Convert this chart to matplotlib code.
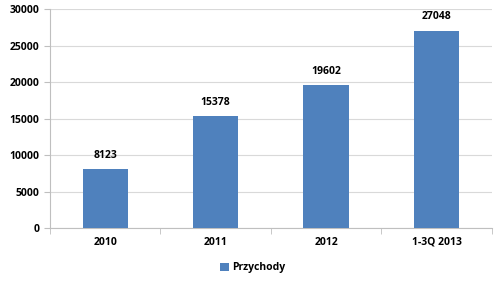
import matplotlib
matplotlib.use("Agg")
import matplotlib.pyplot as plt
import numpy as np

categories = ["2010", "2011", "2012", "1-3Q 2013"]
values = [8123, 15378, 19602, 27048]
series_name = "Przychody"

plt.rcParams['font.family'] = ['Open Sans', 'DejaVu Sans']
fig = plt.figure(figsize=(5, 2.81), dpi=100)
ax = fig.add_axes([0.100, 0.1875, 0.8834, 0.7795])
x = np.arange(len(categories))
bars = ax.bar(x, values, width=0.41, color="#4f81bd", label=series_name, zorder=3)
for xi, v in zip(x, values):
    ax.annotate(str(v), (xi, v), xytext=(0, 6), textcoords="offset points",
                ha="center", va="bottom", fontsize=7.5, fontweight="bold")
ax.set_xlim(-0.5, len(categories) - 0.5)
ax.set_ylim(0, 30000)
ax.set_yticks(np.arange(0, 30001, 5000))
ax.yaxis.grid(True, color="#d9d9d9", linewidth=0.8, zorder=0)
ax.set_xticks(x)
ax.set_xticklabels(categories, fontsize=7.5, fontweight="bold")
ax.set_xticks(np.arange(-0.5, len(categories)), minor=True)
ax.tick_params(axis="x", which="major", length=0, pad=6)
ax.tick_params(axis="x", which="minor", length=4, color="#bfbfbf")
ax.tick_params(axis="y", length=4, color="#bfbfbf", labelsize=7.5)
for lab in ax.get_yticklabels():
    lab.set_fontweight("bold")
for s in ["top", "right"]:
    ax.spines[s].set_visible(False)
for s in ["left", "bottom"]:
    ax.spines[s].set_color("#bfbfbf")
leg = fig.legend(handles=[bars], labels=[series_name], loc="center", bbox_to_anchor=(0.505, 0.047),
                 frameon=False, handlelength=0.8, handleheight=0.8, handletextpad=0.3,
                 prop={"size": 7.5, "weight": "bold"})
fig.savefig("out.png", dpi=100)
